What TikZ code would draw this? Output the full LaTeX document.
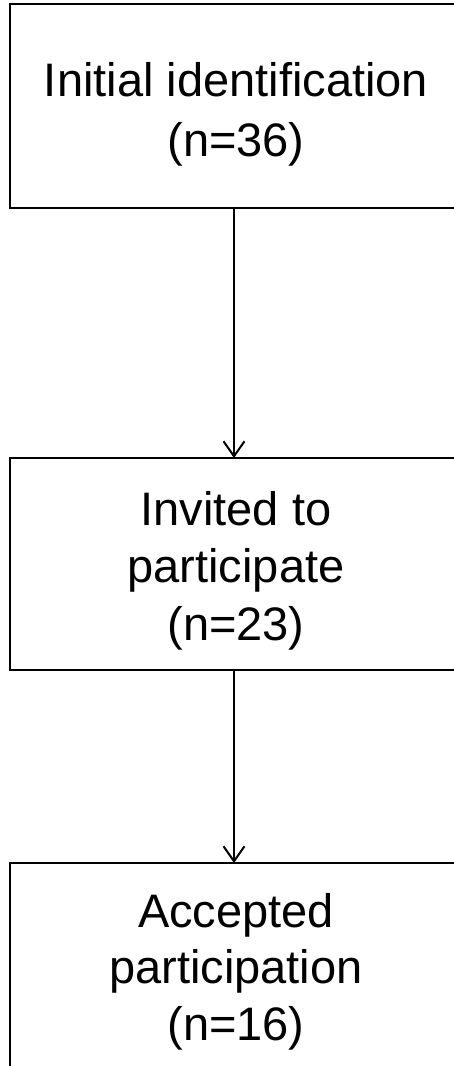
\documentclass[tikz,border=0pt]{standalone}
\usepackage{fontspec}
\setmainfont{Liberation Sans}
\usetikzlibrary{arrows.meta}
\begin{document}
\begin{tikzpicture}[x=1pt,y=-1pt,
  box/.style={draw, line width=2pt, rectangle, inner sep=0pt, outer sep=0pt},
  lbl/.style={align=center, inner sep=0pt, anchor=base, font=\fontsize{47}{#1}\selectfont},
  conn/.style={line width=2pt, -{Straight Barb[length=15pt,width=21pt,line width=2pt]}}]
\useasboundingbox (0,0) rectangle (454,1066);
\begin{scope}
\clip (0,0) rectangle (454,1066);
\node[box, minimum width=452pt, minimum height=204pt] (b1) at (236,106) {};
\node[box, minimum width=452pt, minimum height=212pt] (b2) at (236,564) {};
\node[box, minimum width=452pt, minimum height=212pt] (b3) at (236,969) {};
\end{scope}
\node[lbl=60] (t1) at (236,156) {Initial identification\\(n=36)};
\node[lbl=57.5] (t2) at (236,640) {Invited to\\participate\\(n=23)};
\node[lbl=56.5] (t3) at (236,1040) {Accepted\\participation\\(n=16)};
\draw[conn] (b1.south -| 234,0) -- (b2.north -| 234,0);
\draw[conn] (b2.south -| 234,0) -- (b3.north -| 234,0);
\end{tikzpicture}
\end{document}
